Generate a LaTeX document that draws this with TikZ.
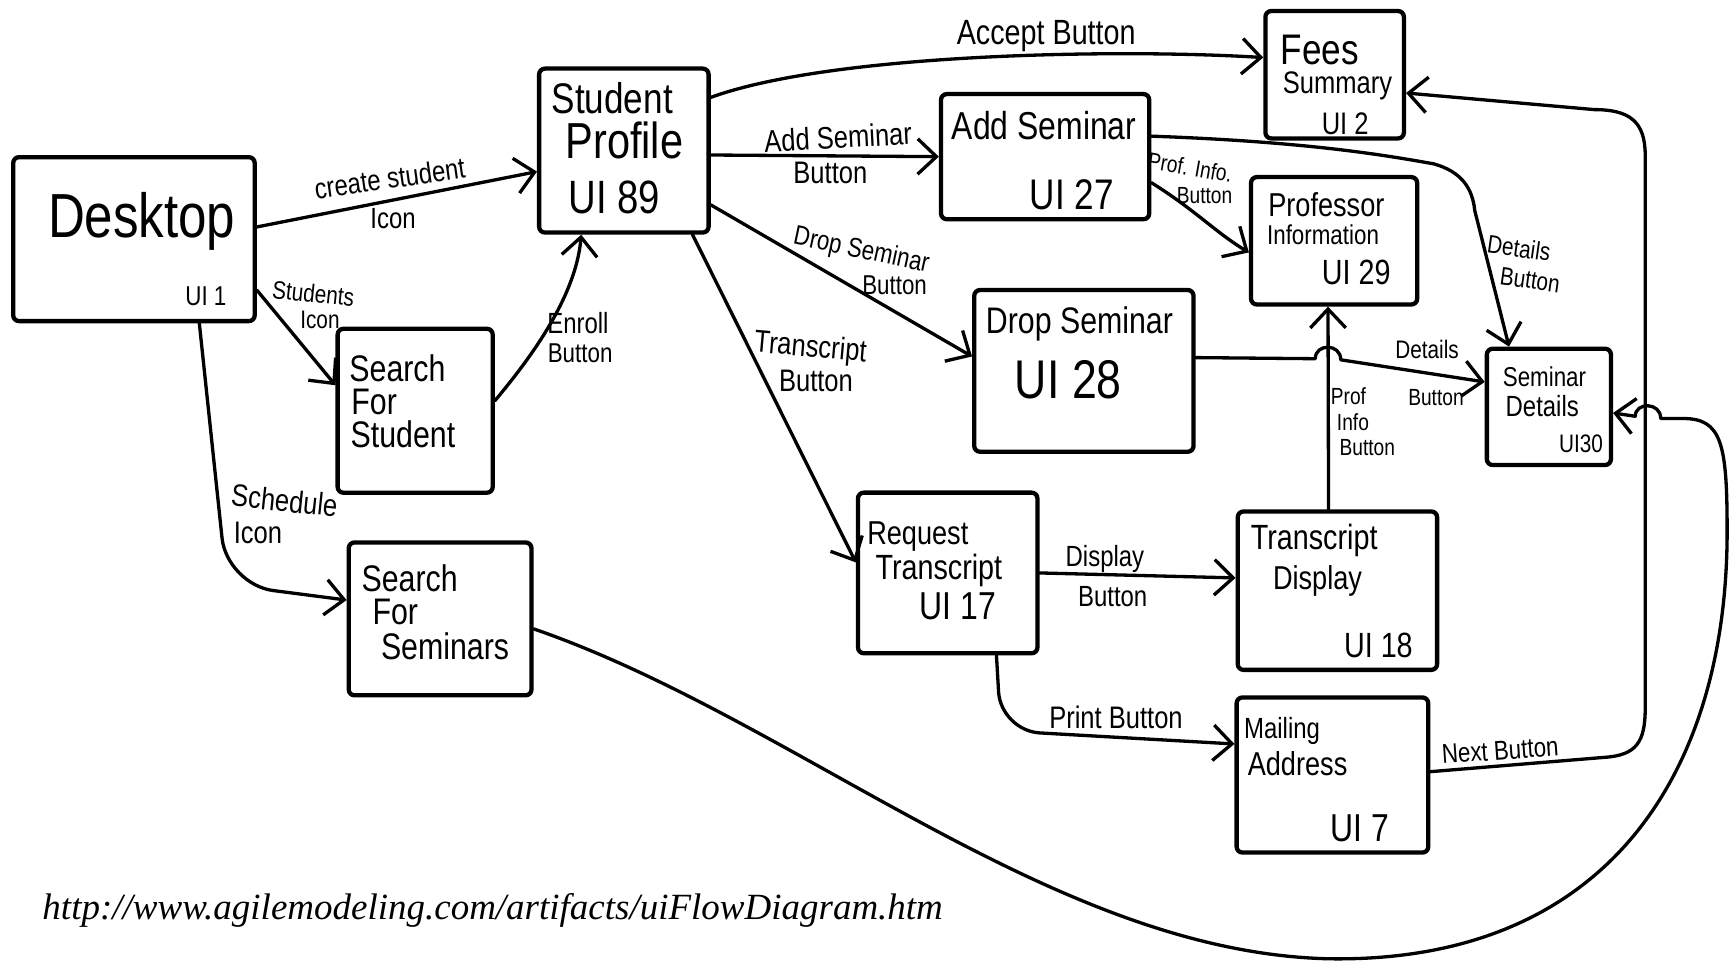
\documentclass[tikz,border=0pt]{standalone}
\usepackage{fontspec}
\setmainfont{Liberation Sans}
\newfontfamily\hand[FakeStretch=0.82]{Liberation Sans}
\newfontfamily\urlserif{Liberation Serif}
\usetikzlibrary{arrows.meta}
\newcommand\handsz[1]{\hand\fontsize{#1}{#1}\selectfont}

\tikzset{
  uibox/.style={draw, line width=1.1pt, rounded corners=1.5pt, inner sep=0pt},
  flow/.style={line width=0.85pt, line cap=round, line join=round,
    -{Straight Barb[length=1.7mm,width=3.2mm,line width=0.85pt]}},
  txt/.style={inner sep=0pt, font={\handsz{#1}}},
}

\begin{document}
\begin{tikzpicture}[x=0.01cm, y=-0.01cm]
\fill[white] (0,0) rectangle (1568,870);
\useasboundingbox (0,0) rectangle (1568,870);

% ---------- screens ----------
\node[uibox, minimum width=2.18cm, minimum height=1.48cm] (desk) at (121,216) {};
\node[txt=16] (desk-a) at (128,200) {Desktop};
\node[txt=7] (desk-b) at (186,268) {UI 1};

\node[uibox, minimum width=1.53cm, minimum height=1.48cm] (sp) at (563.5,136) {};
\node[txt=11] (sp-a) at (553,89) {Student};
\node[txt=13] (sp-b) at (564,127) {Profile};
\node[txt=12] (sp-c) at (555,178) {UI 89};

\node[uibox, minimum width=1.88cm, minimum height=1.13cm] (add) at (944,141.5) {};
\node[txt=10] (add-a) at (943,113) {Add Seminar};
\node[txt=11] (add-b) at (968,176) {UI 27};

\node[uibox, minimum width=1.25cm, minimum height=1.15cm] (fees) at (1205.5,67.5) {};
\node[txt=11] (fees-a) at (1192,45) {Fees};
\node[txt=8] (fees-b) at (1208,78) {Summary};
\node[txt=8] (fees-c) at (1215,112) {UI 2};

\node[uibox, minimum width=1.5cm, minimum height=1.15cm] (pinfo) at (1205,217.5) {};
\node[txt=8.5] (pinfo-a) at (1198,185) {Professor};
\node[txt=7] (pinfo-b) at (1195,212) {Information};
\node[txt=9] (pinfo-c) at (1225,246) {UI 29};

\node[uibox, minimum width=1.98cm, minimum height=1.46cm] (drop) at (979,335) {};
\node[txt=9.5] (drop-a) at (975,293) {Drop Seminar};
\node[txt=14] (drop-b) at (965,343) {UI 28};

\node[uibox, minimum width=1.12cm, minimum height=1.05cm] (sdet) at (1399,367.5) {};
\node[txt=7] (sdet-a) at (1395,340) {Seminar};
\node[txt=7.5] (sdet-b) at (1393,367) {Details};
\node[txt=6.5] (sdet-c) at (1428,401) {UI30};

\node[uibox, minimum width=1.4cm, minimum height=1.48cm] (sstu) at (375,371) {};
\node[txt=9.5] (sstu-a) at (359,333) {Search};
\node[txt=9.5] (sstu-b) at (338,363) {For};
\node[txt=9.5] (sstu-c) at (364,392) {Student};

\node[uibox, minimum width=1.65cm, minimum height=1.38cm] (ssem) at (397.5,559) {};
\node[txt=9.5] (ssem-a) at (370,522) {Search};
\node[txt=9.5] (ssem-b) at (357,553) {For};
\node[txt=9.5] (ssem-c) at (402,584) {Seminars};

\node[uibox, minimum width=1.62cm, minimum height=1.45cm] (rqt) at (856,517.5) {};
\node[txt=8.5] (rqt-a) at (829,485) {Request};
\node[txt=9] (rqt-b) at (848,515) {Transcript};
\node[txt=10] (rqt-c) at (865,548) {UI 17};

\node[uibox, minimum width=1.8cm, minimum height=1.43cm] (tdis) at (1208,533.5) {};
\node[txt=9] (tdis-a) at (1187,488) {Transcript};
\node[txt=8.5] (tdis-b) at (1190,525) {Display};
\node[txt=9] (tdis-c) at (1245,583) {UI 18};

\node[uibox, minimum width=1.73cm, minimum height=1.4cm] (mail) at (1203.5,700) {};
\node[txt=7.5] (mail-a) at (1158,660) {Mailing};
\node[txt=8.5] (mail-b) at (1172,690) {Address};
\node[txt=10] (mail-c) at (1228,748) {UI 7};

% ---------- transitions ----------
\draw[flow] ([yshift=0.11cm]desk.east) -- ([yshift=-0.19cm]sp.west);
\draw[flow] ([yshift=-0.46cm]desk.east) -- ([yshift=0.23cm]sstu.west);
\draw[flow, rounded corners=12pt] ([xshift=0.59cm]desk.south) -- (205,528) -- ([yshift=0.17cm]ssem.west);
\draw[flow] ([yshift=0.09cm]sstu.east) .. controls +(25,-30) and +(-5,60) .. ([xshift=-0.385cm]sp.south);
\draw[flow] ([yshift=0.48cm]sp.east) .. controls +(110,-40) and +(-130,-8) .. ([yshift=0.155cm]fees.west);
\draw[flow] ([yshift=-0.04cm]sp.east) -- (add.west);
\draw[flow] ([yshift=-0.49cm]sp.east) -- ([yshift=0.13cm]drop.west);
\draw[flow] ([xshift=0.62cm]sp.south) -- ([yshift=0.095cm]rqt.west);
\draw[flow] ([yshift=-0.235cm]add.east) .. controls +(40,25) and +(-30,-18) .. ([yshift=-0.105cm]pinfo.west);
\draw[flow] ([yshift=0.185cm]add.east) .. controls (1180,128) and (1250,140) .. (1295,148)
  .. controls (1320,155) and (1330,170) .. (1332,190) -- ([xshift=-0.36cm]sdet.north);
\draw[flow] ([yshift=0.12cm]drop.east) -- (1188,324) .. controls (1188,310) and (1211,310) .. (1211,325)
  -- ([yshift=0.225cm]sdet.west);
\draw[flow] ([xshift=-0.08cm]tdis.north) -- ([xshift=-0.055cm]pinfo.south);
\draw[flow] (rqt.east) -- ([yshift=0.115cm]tdis.west);
\draw[flow, rounded corners=10pt] ([xshift=0.44cm]rqt.south) -- (904,660) -- ([yshift=0.28cm]mail.west);
\draw[flow] ([yshift=0.03cm]mail.east) -- (1450,684) .. controls (1478,682) and (1486,670) .. (1486,640)
  -- (1486,140) .. controls (1486,110) and (1472,99) .. (1440,99) -- ([yshift=-0.165cm]fees.east);
\draw[flow] ([yshift=-0.09cm]ssem.east) .. controls (720,650) and (950,860) .. (1200,866)
  .. controls (1450,870) and (1560,700) .. (1560,480)
  .. controls (1560,400) and (1555,378) .. (1520,378) -- (1500,378)
  .. controls (1500,363) and (1477,363) .. (1477,376) -- ([yshift=-0.055cm]sdet.east);

% ---------- transition labels ----------
\node[txt=7.5, rotate=8] (l1a) at (352,161) {create student};
\node[txt=7.5] (l1b) at (355,197) {Icon};
\node[txt=6.5, rotate=-6] (l2a) at (283,265) {Students};
\node[txt=6.5] (l2b) at (289,289) {Icon};
\node[txt=8, rotate=-6] (l3a) at (257,452) {Schedule};
\node[txt=8] (l3b) at (233,481) {Icon};
\node[txt=7.5] (l4a) at (522,292) {Enroll};
\node[txt=7] (l4b) at (524,319) {Button};
\node[txt=9] (l5) at (945,33) {Accept Button};
\node[txt=8, rotate=3] (l6a) at (757,124) {Add Seminar};
\node[txt=8] (l6b) at (750,156) {Button};
\node[txt=7, rotate=-12] (l7a) at (778,227) {Drop Seminar};
\node[txt=7] (l7b) at (808,258) {Button};
\node[txt=8, rotate=-5] (l8a) at (732,315) {Transcript};
\node[txt=8] (l8b) at (737,344) {Button};
\node[txt=6, rotate=-10] (l9a) at (1075,151) {Prof. Info.};
\node[txt=6] (l9b) at (1088,177) {Button};
\node[txt=6.5, rotate=-8] (l10a) at (1372,224) {Details};
\node[txt=6.5, rotate=-8] (l10b) at (1382,253) {Button};
\node[txt=6.5] (l11a) at (1289,316) {Details};
\node[txt=6] (l11b) at (1297,359) {Button};
\node[txt=6] (l12a) at (1218,358) {Prof};
\node[txt=6] (l12b) at (1222,381) {Info};
\node[txt=6] (l12c) at (1235,404) {Button};
\node[txt=7.5] (l13a) at (998,505) {Display};
\node[txt=7.5] (l13b) at (1005,539) {Button};
\node[txt=8] (l14) at (1008,648) {Print Button};
\node[txt=7, rotate=4] (l15) at (1355,678) {Next Button};

% ---------- source line ----------
\node[inner sep=0pt, font=\urlserif\itshape\fontsize{9.5}{9.5}\selectfont] (src) at (445,822)
  {http://www.agilemodeling.com/artifacts/uiFlowDiagram.htm};
\end{tikzpicture}
\end{document}
